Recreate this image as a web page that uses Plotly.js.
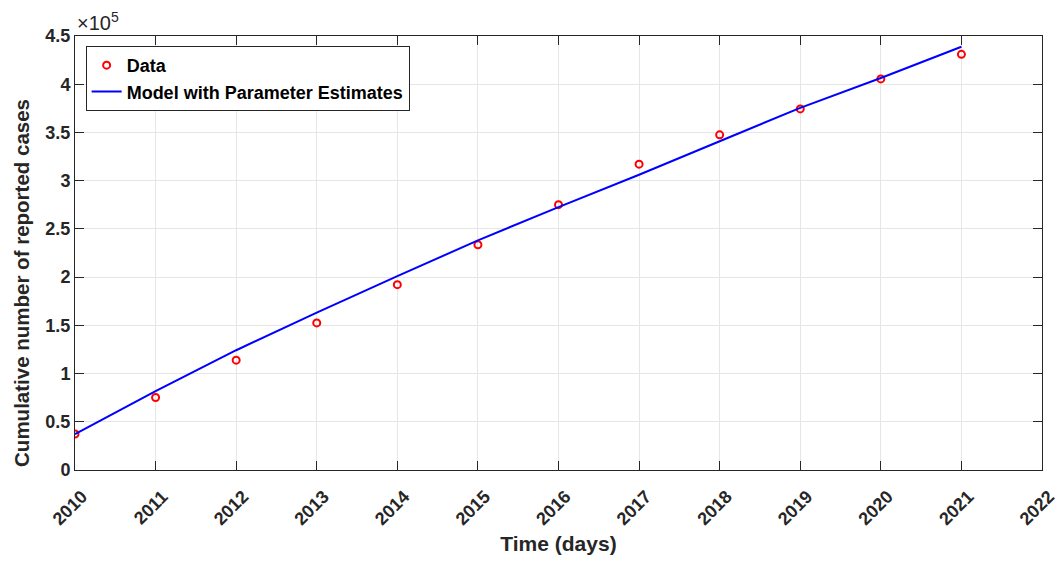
<!DOCTYPE html>
<html>
<head>
<meta charset="utf-8">
<script src="https://cdn.plot.ly/plotly-3.0.1.min.js"></script>
<style>html,body{margin:0;padding:0;background:#fff;}#chart{width:1058px;height:563px;}</style>
</head>
<body>
<div id="chart"></div>
<script>
const years = [2010, 2011, 2012, 2013, 2014, 2015, 2016, 2017, 2018, 2019, 2020, 2021];
const dataCases = [37300, 75200, 113900, 152500, 192200, 233600, 275100, 317100, 347500, 374400, 405500, 431000];
const modelCases = [37300, 81800, 124200, 163200, 201000, 238100, 272600, 306100, 340900, 375500, 406500, 438900];
const xTicks = [2010, 2011, 2012, 2013, 2014, 2015, 2016, 2017, 2018, 2019, 2020, 2021, 2022];
const yTickVals = [0, 50000, 100000, 150000, 200000, 250000, 300000, 350000, 400000, 450000];
const yTickText = ['0', '0.5', '1', '1.5', '2', '2.5', '3', '3.5', '4', '4.5'];

const font = 'Liberation Sans, Arial, sans-serif';
const traces = [
  {x: years, y: dataCases, mode: 'markers', name: 'Data',
   marker: {symbol: 'circle-open', color: '#ff0000', size: 7, line: {width: 2, color: '#ff0000'}}},
  {x: years, y: modelCases, mode: 'lines', name: 'Model with Parameter Estimates',
   line: {color: '#0000ff', width: 2}}
];
const layout = {
  width: 1058, height: 563,
  margin: {l: 75, r: 16, t: 36, b: 93},
  paper_bgcolor: '#fff', plot_bgcolor: '#fff',
  font: {family: font, color: '#262626'},
  showlegend: true,
  legend: {x: 0.011, y: 0.977, xanchor: 'left', yanchor: 'top', bgcolor: '#fff',
           bordercolor: '#262626', borderwidth: 1,
           font: {family: font, size: 18, color: '#000', weight: 'bold'},
           tracegroupgap: 0, itemwidth: 30},
  xaxis: {range: [2010, 2022], tickvals: xTicks, ticktext: xTicks.map(String), tickangle: -45,
          tickfont: {family: font, size: 18, color: '#262626', weight: 'bold'},
          ticklabelstandoff: 8, ticklabelshift: 7, ticklabeloverflow: 'allow',
          showgrid: true, gridcolor: '#e6e6e6', gridwidth: 1, zeroline: false,
          showline: true, linecolor: '#262626', linewidth: 1, mirror: 'ticks',
          ticks: 'inside', ticklen: 9, tickcolor: '#262626',
          title: {text: 'Time (days)', font: {family: font, size: 21, color: '#262626', weight: 'bold'}, standoff: 8}},
  yaxis: {range: [0, 450000], tickvals: yTickVals, ticktext: yTickText,
          tickfont: {family: font, size: 18, color: '#262626', weight: 'bold'},
          showgrid: true, gridcolor: '#e6e6e6', gridwidth: 1, zeroline: false,
          showline: true, linecolor: '#262626', linewidth: 1, mirror: 'ticks',
          ticks: 'inside', ticklen: 9, tickcolor: '#262626'},
  annotations: [
    {text: '×10<sup>5</sup>', xref: 'paper', yref: 'paper', x: 0, y: 1, xanchor: 'left', yanchor: 'bottom',
     showarrow: false, font: {family: font, size: 20, color: '#262626'}, yshift: 0},
    {text: 'Cumulative number of reported cases', xref: 'paper', yref: 'paper', x: 0, y: 0.431,
     xanchor: 'center', yanchor: 'middle', xshift: -53, textangle: -90, showarrow: false,
     font: {family: font, size: 20.5, color: '#262626', weight: 'bold'}}
  ]
};
Plotly.newPlot('chart', traces, layout, {displayModeBar: false, staticPlot: true});
</script>
</body>
</html>
